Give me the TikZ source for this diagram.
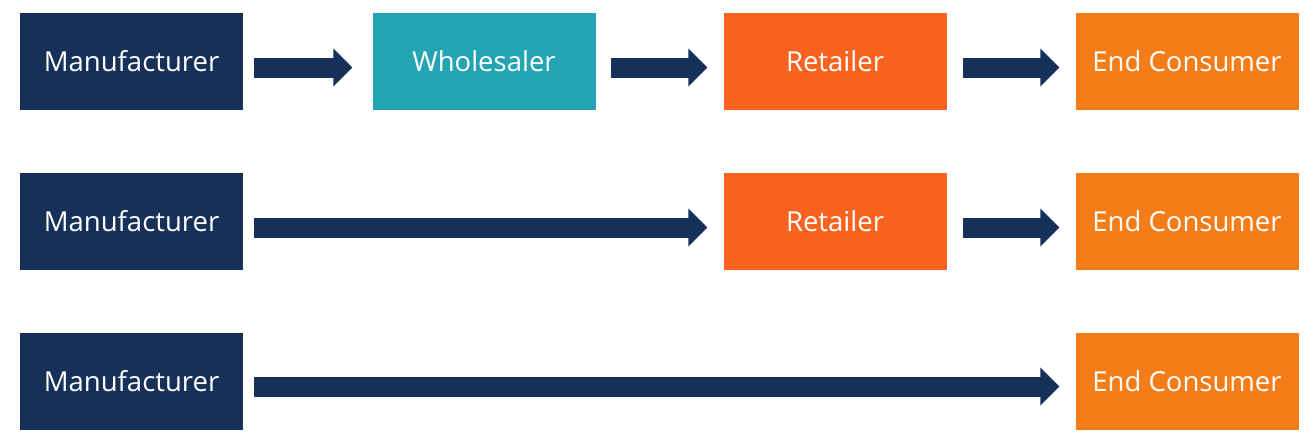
\documentclass[tikz,border=0pt]{standalone}
\usepackage{fontspec}
\setmainfont{Open Sans}
\usetikzlibrary{arrows.meta}
\definecolor{navy}{RGB}{22,48,88}
\definecolor{teal}{RGB}{36,164,178}
\definecolor{retail}{RGB}{250,99,30}
\definecolor{endc}{RGB}{245,125,25}
\begin{document}
\begin{tikzpicture}[x=1pt,y=-1pt,
  box/.style={fill=#1, text=white, minimum width=223pt, minimum height=97pt, inner sep=0pt, font=\fontsize{27.5}{32}\selectfont},
  flow/.style={draw=navy, line width=20pt, -{Triangle[length=19pt,width=37pt]}, shorten <=11pt, shorten >=20pt}]
\useasboundingbox (0,0) rectangle (1313,440);
% row 1
\node[box=navy]   (m1) at (131.5,61.5) {Manufacturer};
\node[box=teal]   (w1) at (484,61.5) {Wholesaler};
\node[box=retail] (r1) at (835,61.5) {Retailer};
\node[box=endc]   (e1) at (1187,61.5) {End Consumer};
% row 2
\node[box=navy]   (m2) at (131.5,221.5) {Manufacturer};
\node[box=retail] (r2) at (835,221.5) {Retailer};
\node[box=endc]   (e2) at (1187,221.5) {End Consumer};
% row 3
\node[box=navy]   (m3) at (131.5,381.5) {Manufacturer};
\node[box=endc]   (e3) at (1187,381.5) {End Consumer};
% arrows
\draw[flow] ([yshift=-6pt]m1.east) -- ([yshift=-6pt]w1.west);
\draw[flow, shorten <=15pt, shorten >=16pt] ([yshift=-6pt]w1.east) -- ([yshift=-6pt]r1.west);
\draw[flow, shorten <=16pt, shorten >=16pt] ([yshift=-6pt]r1.east) -- ([yshift=-6pt]e1.west);
\draw[flow, shorten >=16pt] ([yshift=-6pt]m2.east) -- ([yshift=-6pt]r2.west);
\draw[flow, shorten <=16pt, shorten >=16pt] ([yshift=-6pt]r2.east) -- ([yshift=-6pt]e2.west);
\draw[flow, shorten >=16pt] ([yshift=-5pt]m3.east) -- ([yshift=-5pt]e3.west);
\end{tikzpicture}
\end{document}
